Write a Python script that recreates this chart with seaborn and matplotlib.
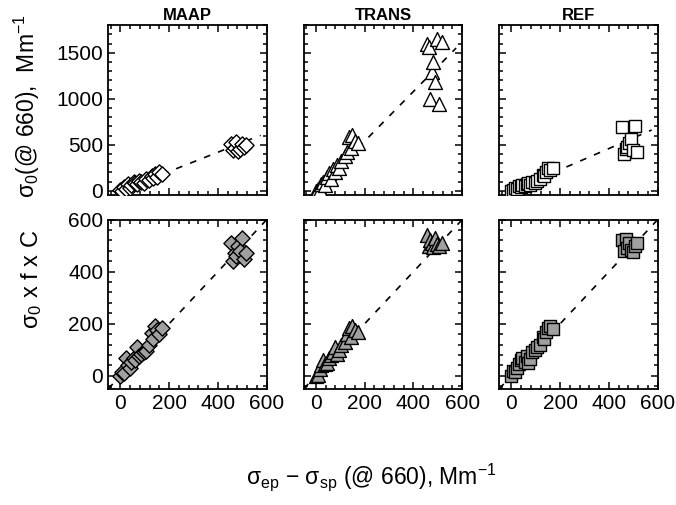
import numpy as np
import pandas as pd
import matplotlib
matplotlib.use('Agg')
import matplotlib.pyplot as plt
import seaborn as sns
from matplotlib.ticker import MultipleLocator

# shared x: sigma_ep - sigma_sp (@660), Mm-1
x_ext = [0, 8, 15, 22, 30, 38, 45, 55, 62, 70, 78, 85, 95, 105, 118, 128, 135, 142, 150, 160, 172,
         455, 462, 468, 475, 482, 490, 498, 505, 515]

# top row: sigma_0 (@660)
maap_top = [5, 0, 40, 20, 75, 35, 60, 95, 90, 70, 110, 100, 85, 130, 120, 160, 140, 185, 150, 200, 180,
            505, 445, 470, 530, 430, 455, 510, 480, 500]
trans_top = [0, 20, 10, 70, 100, 60, 150, 190, 130, 240, 200, 280, 250, 320, 380, 420, 580, 470, 610, 540, 520,
             1600, 1560, 1000, 1290, 1400, 1180, 1650, 940, 1620]
ref_top = [0, 5, 30, 15, 50, 40, 60, 50, 70, 80, 65, 100, 90, 110, 130, 170, 160, 210, 250, 230, 250,
           690, 400, 450, 480, 520, 560, 440, 700, 420]

# bottom row: sigma_0 x f x C
maap_bot = [0, 15, 10, 70, 40, 30, 55, 70, 60, 110, 75, 85, 90, 95, 120, 165, 140, 190, 175, 160, 185,
            510, 440, 470, 460, 500, 480, 530, 450, 470]
trans_bot = [0, 5, 25, 40, 60, 45, 50, 70, 80, 90, 110, 85, 100, 120, 130, 160, 185, 150, 190, 175, 170,
             540, 500, 520, 510, 495, 530, 505, 500, 510]
ref_bot = [0, 20, 15, 30, 45, 60, 70, 55, 75, 50, 65, 90, 100, 110, 120, 150, 140, 170, 185, 190, 180,
           520, 480, 525, 490, 510, 485, 475, 500, 510]

# slopes of the dashed fit lines
top_slopes = [1.05, 2.7, 1.15]
bot_slopes = [1.0, 1.0, 1.0]

instruments = ['MAAP', 'TRANS', 'REF']
markers = ['D', '^', 's']
msizes = [60, 100, 75]

sns.set_style('ticks')
plt.rcParams['font.family'] = ['Liberation Sans', 'DejaVu Sans']
plt.rcParams['mathtext.fontset'] = 'custom'
plt.rcParams['mathtext.rm'] = 'Liberation Sans'
plt.rcParams['mathtext.it'] = 'Liberation Sans'
plt.rcParams['mathtext.default'] = 'regular'
plt.rcParams['text.color'] = 'black'
plt.rcParams['xtick.color'] = 'black'
plt.rcParams['ytick.color'] = 'black'
plt.rcParams['axes.edgecolor'] = 'black'

fig, axes = plt.subplots(2, 3, figsize=(6.76, 5.05), dpi=100)
fig.subplots_adjust(left=0.16, right=0.973, top=0.95, bottom=0.23, wspace=0.233, hspace=0.148)

top_vals = [maap_top, trans_top, ref_top]
bot_vals = [maap_bot, trans_bot, ref_bot]

for j in range(3):
    for i, (vals, slope, face) in enumerate([(top_vals[j], top_slopes[j], 'white'),
                                             (bot_vals[j], bot_slopes[j], '#a0a0a0')]):
        ax = axes[i, j]
        df = pd.DataFrame({'x': x_ext, 'y': vals})
        sns.scatterplot(data=df, x='x', y='y', ax=ax, marker=markers[j], s=msizes[j],
                        color=face, edgecolor='black', linewidth=1.0, zorder=3)
        xl = np.array([0, 575]) if i == 0 else np.array([-50, 600])
        ax.plot(xl, slope * xl, color='black', ls=(0, (4, 5)), lw=1.2, zorder=2)
        ax.set_xlim(-50, 600)
        if i == 0:
            ax.set_ylim(-40, 1800)
            ax.yaxis.set_major_locator(MultipleLocator(500))
            ax.yaxis.set_minor_locator(MultipleLocator(100))
            ax.set_title(instruments[j], fontsize=12, fontweight='bold', pad=4)
        else:
            ax.set_ylim(-50, 600)
            ax.yaxis.set_major_locator(MultipleLocator(200))
            ax.yaxis.set_minor_locator(MultipleLocator(40))
        ax.xaxis.set_major_locator(MultipleLocator(200))
        ax.xaxis.set_minor_locator(MultipleLocator(40))
        if i == 0:
            ax.set_xticklabels([])
        if j > 0:
            ax.set_yticklabels([])
        ax.set_xlabel('')
        ax.set_ylabel('')
        ax.tick_params(which='both', direction='in', top=True, right=True, labelsize=15, width=1.1)
        ax.tick_params(which='major', length=5)
        ax.tick_params(which='minor', length=3)
        for sp in ax.spines.values():
            sp.set_linewidth(1.3)

fig.text(0.04, 0.79, r'σ$_0$(@ 660),  Mm$^{-1}$', rotation=90, fontsize=16.5, ha='center', va='center')
fig.text(0.047, 0.447, r'σ$_0$ x f x C', rotation=90, fontsize=17, ha='center', va='center')
fig.text(0.55, 0.055, r'σ$_{ep}$ − σ$_{sp}$ (@ 660), Mm$^{-1}$', fontsize=16.5, ha='center', va='center')

plt.savefig('out.png', dpi=100)
